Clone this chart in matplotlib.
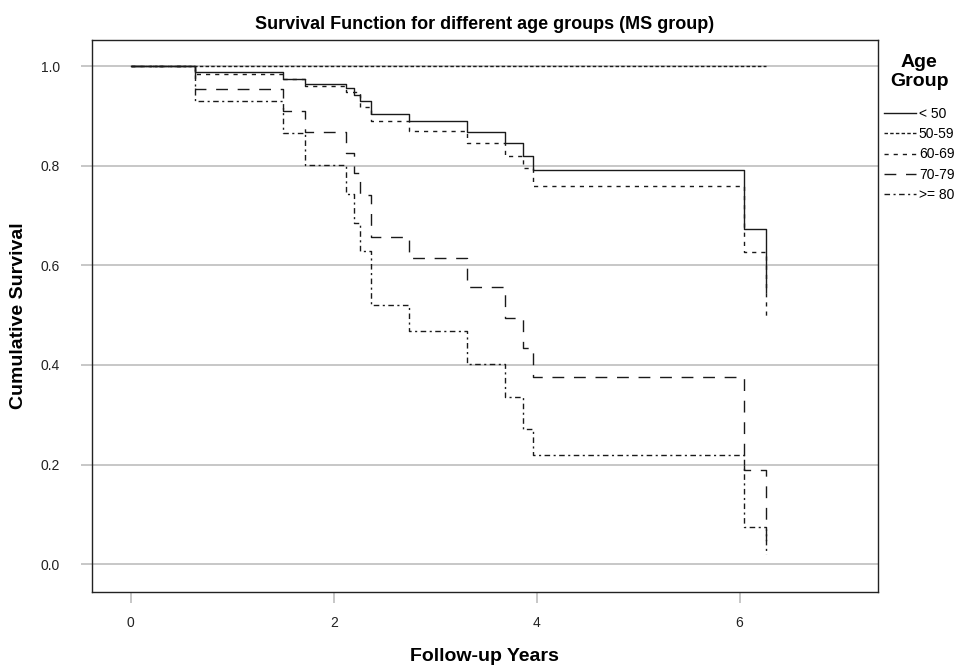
import matplotlib
matplotlib.use('Agg')
import matplotlib.pyplot as plt

plt.rcParams['font.family'] = ['Liberation Sans', 'DejaVu Sans']

# Kaplan-Meier steps (time in years, cumulative survival)
t_lt50 = [0, 0.63, 1.50, 1.72, 2.12, 2.20, 2.26, 2.37, 2.74, 3.31, 3.69, 3.87, 3.96, 6.04, 6.26]
s_lt50 = [1.0, 0.989, 0.974, 0.964, 0.955, 0.942, 0.930, 0.903, 0.890, 0.868, 0.845, 0.819, 0.791, 0.673, 0.546]

t_50_59 = [0, 6.26]
s_50_59 = [1.0, 1.0]

t_60_69 = [0, 0.63, 1.50, 1.72, 2.12, 2.26, 2.37, 2.74, 3.31, 3.69, 3.87, 3.96, 6.04, 6.26]
s_60_69 = [1.0, 0.985, 0.973, 0.960, 0.947, 0.918, 0.889, 0.870, 0.846, 0.819, 0.795, 0.759, 0.626, 0.496]

t_70_79 = [0, 0.63, 1.50, 1.72, 2.12, 2.20, 2.26, 2.37, 2.74, 3.31, 3.69, 3.87, 3.96, 6.04, 6.26]
s_70_79 = [1.0, 0.954, 0.910, 0.868, 0.825, 0.785, 0.741, 0.656, 0.614, 0.556, 0.494, 0.434, 0.376, 0.189, 0.03]

t_ge80 = [0, 0.63, 1.50, 1.72, 2.12, 2.20, 2.26, 2.37, 2.74, 3.31, 3.69, 3.87, 3.96, 6.04, 6.26]
s_ge80 = [1.0, 0.930, 0.865, 0.802, 0.744, 0.685, 0.629, 0.520, 0.468, 0.402, 0.335, 0.272, 0.219, 0.075, 0.021]

groups = ['< 50', '50-59', '60-69', '70-79', '>= 80']
times = [t_lt50, t_50_59, t_60_69, t_70_79, t_ge80]
survs = [s_lt50, s_50_59, s_60_69, s_70_79, s_ge80]
styles = ['-', (0, (2.5, 1.6)), (0, (3, 3.6)), (0, (8.5, 7)), (0, (4, 2.5, 1.5, 2.5))]

fig = plt.figure(figsize=(9.57, 6.69), dpi=100)
ax = fig.add_axes([0.096, 0.115, 0.821, 0.825])

for t, s, ls, g in zip(times, survs, styles, groups):
    ax.plot(t, s, drawstyle='steps-post', color='#1a1a1a', lw=1.0, ls=ls, label=g)

ax.set_xlim(-0.384, 7.36)
ax.set_ylim(-0.056, 1.052)
ax.set_xticks([0, 2, 4, 6])
ax.set_yticks([0.0, 0.2, 0.4, 0.6, 0.8, 1.0])
ax.set_yticklabels(['0.0', '0.2', '0.4', '0.6', '0.8', '1.0'])
ax.yaxis.grid(True, color='#bdbdbd', lw=1.2)
ax.set_axisbelow(True)
ax.tick_params(axis='both', direction='out', length=8, width=1.2, color='#bdbdbd',
               labelsize=10, labelcolor='#222222')
ax.tick_params(axis='x', pad=9)
ax.tick_params(axis='y', pad=15)
for sp in ax.spines.values():
    sp.set_linewidth(1.0)
    sp.set_color('#222222')

ax.set_title('Survival Function for different age groups (MS group)',
             fontsize=13, fontweight='bold', pad=8)
ax.set_xlabel('Follow-up Years', fontsize=14, fontweight='bold', labelpad=13)
ax.set_ylabel('Cumulative Survival', fontsize=14, fontweight='bold', labelpad=10)

leg = fig.legend(loc='upper left', bbox_to_anchor=(0.918, 0.928), frameon=False,
                 title='Age\nGroup', title_fontproperties={'weight': 'bold', 'size': 14},
                 fontsize=10, handlelength=2.3, handletextpad=0.2, labelspacing=0.45,
                 borderaxespad=0, alignment='center')
leg.get_title().set_multialignment('center')
leg._legend_box.sep = 12

fig.savefig('out.png', dpi=100)
